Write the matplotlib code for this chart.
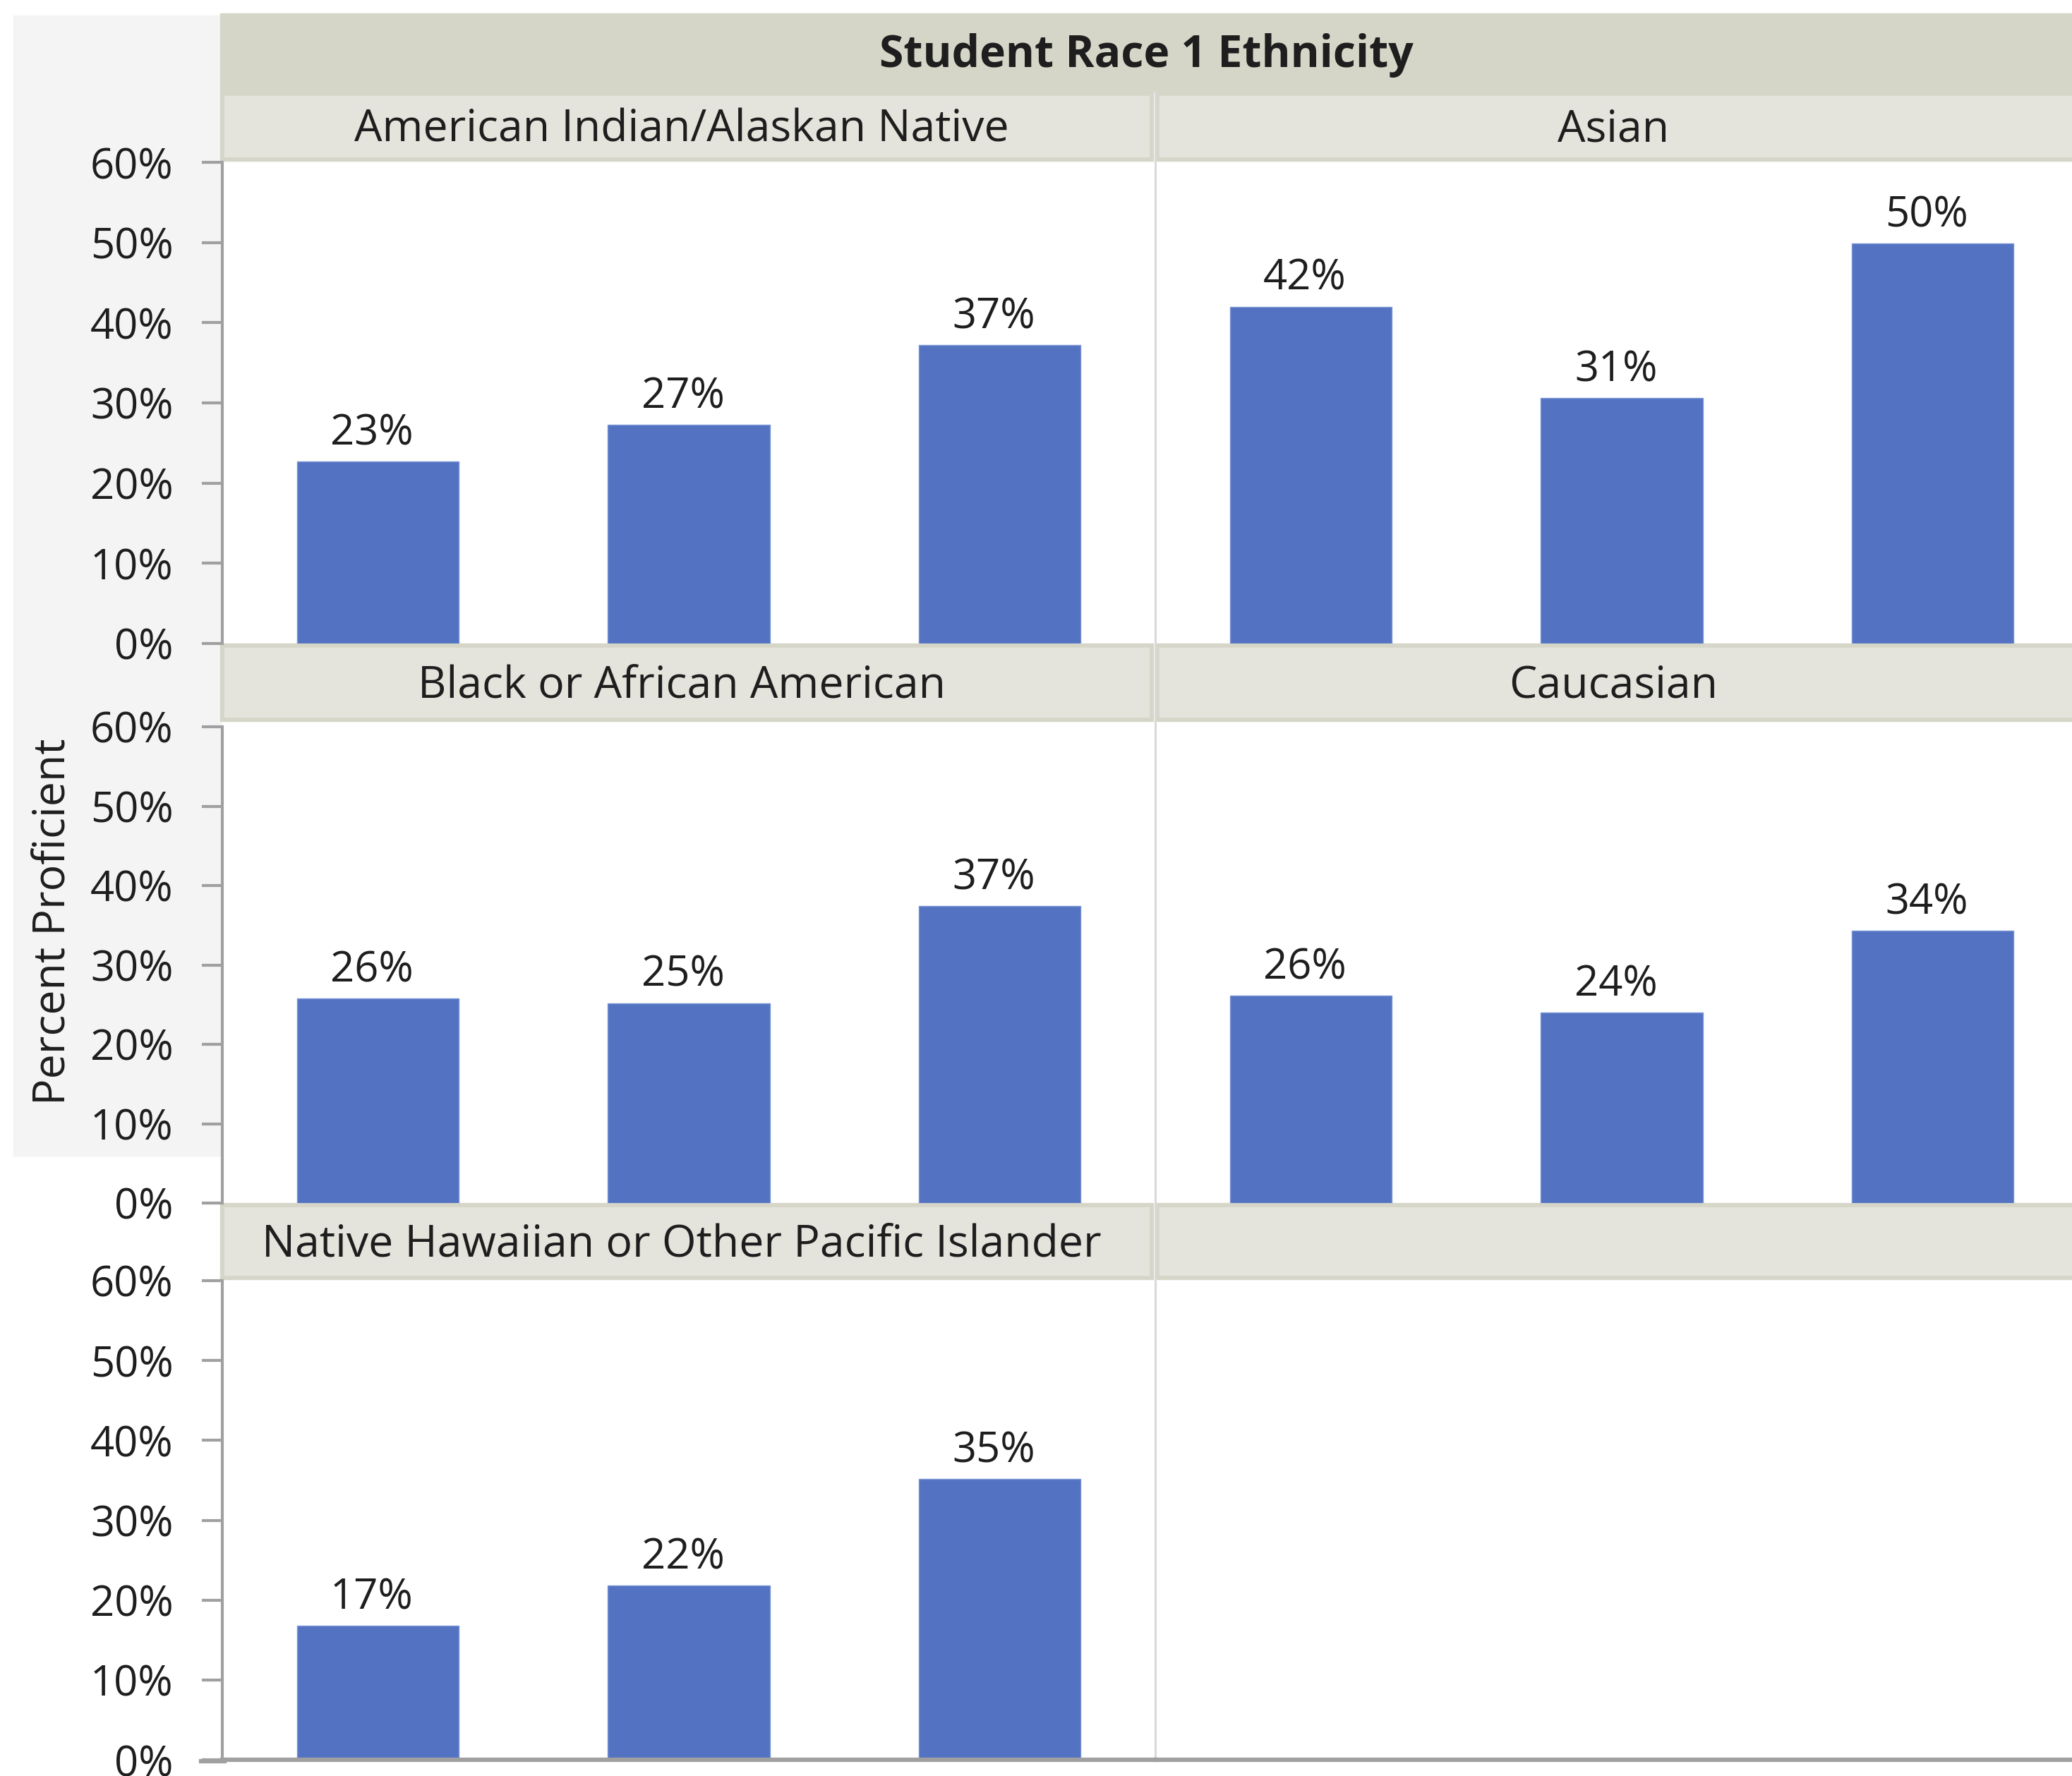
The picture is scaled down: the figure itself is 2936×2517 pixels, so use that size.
import numpy as np
import matplotlib.pyplot as plt
from matplotlib.patches import Rectangle
from matplotlib.lines import Line2D
from matplotlib.ticker import PercentFormatter

plt.rcParams["font.family"] = ["Open Sans", "DejaVu Sans"]

# %% data
groups = ["American Indian/Alaskan Native", "Asian",
          "Black or African American", "Caucasian",
          "Native Hawaiian or Other Pacific Islander"]
ai_vals = [0.227, 0.273, 0.372]
asian_vals = [0.420, 0.306, 0.499]
black_vals = [0.258, 0.252, 0.374]
cauc_vals = [0.261, 0.240, 0.343]
nhpi_vals = [0.168, 0.218, 0.352]
all_vals = [ai_vals, asian_vals, black_vals, cauc_vals, nhpi_vals]
yticks = [0, 0.1, 0.2, 0.3, 0.4, 0.5, 0.6]

# %% layout in pixels
W, H = 2936, 2517
bar_color = "#5373C2"
strip_dark = "#D6D6C8"
strip_light = "#E4E4DC"
axis_gray = "#A0A0A0"
text_col = "#1E1E1E"
fs = 43   # ticks and bar labels
fs2 = 45  # headers and axis title

def frac(x0, y0, x1, y1):
    return [x0 / W, 1 - y1 / H, (x1 - x0) / W, (y1 - y0) / H]

fig = plt.figure(figsize=(W / 100, H / 100), dpi=100)
fig.patch.set_facecolor("white")

# light grey panel behind the y labels
fig.add_artist(Rectangle((19 / W, 1 - 1638 / H), (313 - 19) / W, (1638 - 22) / H,
                         transform=fig.transFigure, color="#F4F4F4", zorder=-5))

col_x = [(315, 1637), (1637, 2959)]
row_y = [(230, 912), (1030, 1705), (1815, 2494)]
strip_y = [(130, 228), (912, 1022), (1705, 1813)]

# top header
fig.add_artist(Rectangle((312 / W, 1 - 130 / H), (W - 312) / W, (130 - 19) / H,
                         transform=fig.transFigure, color=strip_dark, zorder=-4))
fig.text(1624 / W, 1 - 78 / H, "Student Race 1 Ethnicity", ha="center", va="center",
         fontsize=fs2, fontweight="bold", color=text_col)

def strip(x0, y0, x1, y1, label, xc):
    b = 6
    fig.add_artist(Rectangle((x0 / W, 1 - y1 / H), (x1 - x0) / W, (y1 - y0) / H,
                             transform=fig.transFigure, color=strip_dark, zorder=-4))
    fig.add_artist(Rectangle(((x0 + b) / W, 1 - (y1 - b) / H), (x1 - x0 - 2 * b) / W,
                             (y1 - y0 - 2 * b) / H, transform=fig.transFigure,
                             color=strip_light, zorder=-3))
    if label:
        fig.text(xc / W, 1 - ((y0 + y1) / 2 + 5) / H, label, ha="center",
                 va="center", fontsize=fs2, color=text_col)

x = np.arange(3)
for i in range(6):
    r, c = divmod(i, 2)
    x0, x1 = col_x[c]
    sx0 = 312 if c == 0 else 1637
    sx1 = 1634 if c == 0 else 2959
    xc = 966 if c == 0 else 2286
    strip(sx0, strip_y[r][0], sx1, strip_y[r][1], groups[i] if i < 5 else "", xc)
    ax = fig.add_axes(frac(x0, row_y[r][0], x1, row_y[r][1]))
    ax.set_facecolor("none")
    ax.set_xlim(-0.5, 2.5)
    ax.set_ylim(0, 0.6)
    for s in ["top", "right"]:
        ax.spines[s].set_visible(False)
    ax.spines["left"].set_visible(c == 0)
    ax.spines["left"].set_color(axis_gray)
    ax.spines["left"].set_linewidth(3)
    ax.spines["bottom"].set_visible(r == 2)
    ax.spines["bottom"].set_color(axis_gray)
    ax.spines["bottom"].set_linewidth(4.5)
    ax.set_xticks([])
    if c == 0:
        ax.set_yticks(yticks)
        ax.yaxis.set_major_formatter(PercentFormatter(1.0, decimals=0))
        ax.tick_params(axis="y", length=21, width=3, color=axis_gray, pad=29,
                       labelsize=fs, labelcolor=text_col)
    else:
        ax.set_yticks([])
    if i < 5:
        vals = all_vals[i]
        ax.bar(x, vals, width=0.52, color=bar_color, edgecolor="#7A95D6", linewidth=1)
        for xi, v in zip(x, vals):
            ax.annotate(f"{v * 100:.0f}%", (xi, v), xytext=(-6, 17), textcoords="offset points",
                        ha="center", va="baseline", fontsize=fs, color=text_col)

# left-side part of the bottom axis line
fig.add_artist(Line2D([285 / W, 318 / W], [1 - 2496 / H] * 2, transform=fig.transFigure,
                      color=axis_gray, linewidth=4.5))
# column divider
fig.add_artist(Line2D([1637 / W] * 2, [1 - 130 / H, 1 - 2494 / H], transform=fig.transFigure,
                      color="#D9D9D9", linewidth=2.2, zorder=-2))

fig.text(75 / W, 1 - 1306 / H, "Percent Proficient", rotation=90, ha="center", va="center",
         fontsize=fs2, color=text_col)

fig.savefig("out.png", dpi=100)
